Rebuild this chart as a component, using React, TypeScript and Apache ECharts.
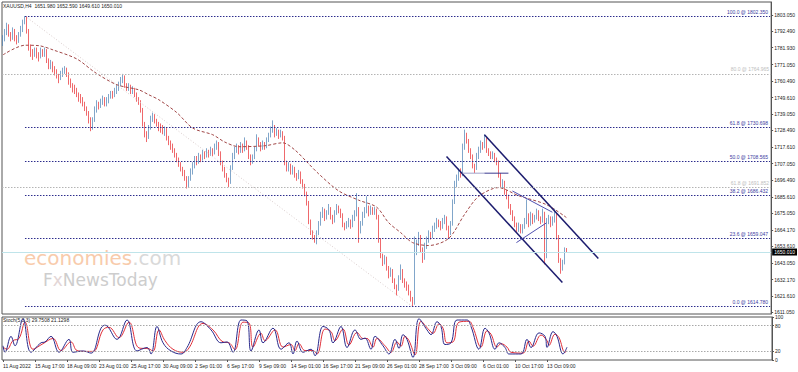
import React, { useEffect, useRef } from 'react';
import * as echarts from 'echarts';

const symbolTitle = 'XAUUSD,H4  1651.980 1652.590 1649.610 1650.010';
const stochTitle = 'Stoch(5,3,3) 29.7508 21.1298';

const dateTicks = ['11 Aug 2022', '15 Aug 17:00', '18 Aug 09:00', '23 Aug 01:00', '25 Aug 17:00', '30 Aug 09:00', '2 Sep 01:00', '6 Sep 17:00', '9 Sep 09:00', '14 Sep 01:00', '16 Sep 17:00', '21 Sep 09:00', '26 Sep 01:00', '28 Sep 17:00', '3 Oct 09:00', '6 Oct 01:00', '10 Oct 17:00', '13 Oct 09:00'];
const barsPerTick = 16;
const totalSlots = 385;

const priceTicks = [1803.05, 1792.49, 1781.93, 1771.05, 1760.49, 1749.61, 1739.05, 1728.49, 1717.61, 1707.05, 1696.49, 1685.61, 1675.05, 1664.17, 1653.61, 1643.05, 1632.17, 1621.61, 1611.05];
const stochTicks = [0, 20, 80, 100];

// [open, close, low, high]
const candles = [
  [1785, 1788, 1783, 1790], [1788, 1792, 1786, 1794], [1792, 1796, 1790, 1798], [1796, 1791, 1789, 1797], [1791, 1789, 1786, 1792],
  [1789, 1793, 1787, 1795], [1793, 1788, 1786, 1794], [1788, 1787, 1784, 1790], [1787, 1790, 1785, 1792], [1790, 1794, 1789, 1796],
  [1794, 1799, 1792, 1800], [1799, 1801, 1797, 1802.35], [1801, 1793, 1791, 1802], [1793, 1782, 1780, 1794], [1782, 1779, 1776, 1784],
  [1779, 1778, 1774, 1781], [1778, 1780, 1776, 1782], [1780, 1777, 1775, 1782], [1777, 1776, 1773, 1779], [1776, 1780, 1775, 1782],
  [1780, 1778, 1776, 1781], [1778, 1780, 1776, 1782], [1780, 1774, 1772, 1781], [1774, 1770, 1768, 1775], [1770, 1772, 1768, 1774],
  [1772, 1768, 1766, 1773], [1768, 1767, 1764, 1770], [1767, 1764, 1762, 1768], [1764, 1762, 1759, 1765], [1762, 1765, 1761, 1767],
  [1765, 1767, 1763, 1769], [1767, 1768, 1765, 1770], [1768, 1765, 1763, 1769], [1765, 1760, 1758, 1766], [1760, 1758, 1756, 1762],
  [1758, 1756, 1753, 1759], [1756, 1755, 1752, 1758], [1755, 1752, 1750, 1756], [1752, 1750, 1747, 1753], [1750, 1749, 1746, 1752],
  [1749, 1746, 1744, 1750], [1746, 1743, 1741, 1747], [1743, 1740, 1738, 1744], [1740, 1736, 1733, 1741], [1736, 1731, 1728, 1737],
  [1731, 1735, 1729, 1737], [1735, 1742, 1734, 1744], [1742, 1746, 1740, 1748], [1746, 1744, 1742, 1747], [1744, 1747, 1743, 1749],
  [1747, 1749, 1745, 1751], [1749, 1746, 1744, 1750], [1746, 1748, 1744, 1750], [1748, 1750, 1746, 1752], [1750, 1752, 1749, 1754],
  [1752, 1751, 1749, 1754], [1751, 1754, 1750, 1756], [1754, 1756, 1752, 1758], [1756, 1758, 1754, 1760], [1758, 1761, 1757, 1763],
  [1761, 1763, 1759, 1765], [1763, 1758, 1756, 1764], [1758, 1756, 1754, 1759], [1756, 1757, 1754, 1759], [1757, 1754, 1752, 1758],
  [1754, 1755, 1752, 1757], [1755, 1752, 1750, 1756], [1752, 1749, 1747, 1753], [1749, 1747, 1745, 1750], [1747, 1742, 1740, 1748],
  [1742, 1733, 1731, 1743], [1733, 1726, 1724, 1734], [1726, 1724, 1721, 1728], [1724, 1730, 1723, 1732], [1730, 1736, 1729, 1738],
  [1736, 1738, 1734, 1740], [1738, 1735, 1733, 1739], [1735, 1733, 1731, 1736], [1733, 1731, 1728, 1734], [1731, 1730, 1727, 1733],
  [1730, 1728, 1726, 1732], [1728, 1729, 1725, 1731], [1729, 1724, 1722, 1730], [1724, 1721, 1719, 1725], [1721, 1719, 1716, 1722],
  [1719, 1716, 1714, 1720], [1716, 1713, 1711, 1717], [1713, 1710, 1708, 1714], [1710, 1707, 1705, 1711], [1707, 1704, 1702, 1708],
  [1704, 1702, 1699, 1705], [1702, 1698, 1696, 1703], [1698, 1694, 1691, 1699], [1694, 1697, 1692, 1699], [1697, 1702, 1696, 1704],
  [1702, 1706, 1700, 1708], [1706, 1710, 1704, 1712], [1710, 1708, 1706, 1712], [1708, 1712, 1707, 1714], [1712, 1710, 1708, 1713],
  [1710, 1714, 1709, 1716], [1714, 1712, 1710, 1715], [1712, 1715, 1711, 1717], [1715, 1713, 1711, 1716], [1713, 1716, 1712, 1718],
  [1716, 1714, 1712, 1717], [1714, 1718, 1713, 1720], [1718, 1720, 1716, 1722], [1720, 1714, 1712, 1721], [1714, 1708, 1706, 1715],
  [1708, 1704, 1702, 1709], [1704, 1700, 1698, 1705], [1700, 1697, 1695, 1701], [1697, 1695, 1692, 1698], [1695, 1704, 1694, 1706],
  [1704, 1712, 1703, 1714], [1712, 1716, 1710, 1718], [1716, 1718, 1714, 1720], [1718, 1715, 1713, 1719], [1715, 1719, 1714, 1721],
  [1719, 1716, 1714, 1720], [1716, 1720, 1715, 1724], [1720, 1718, 1716, 1722], [1718, 1712, 1710, 1719], [1712, 1708, 1706, 1713],
  [1708, 1711, 1707, 1713], [1711, 1716, 1710, 1718], [1716, 1722, 1715, 1726], [1722, 1720, 1718, 1724], [1720, 1717, 1715, 1721],
  [1717, 1720, 1716, 1722], [1720, 1718, 1716, 1721], [1718, 1722, 1717, 1724], [1722, 1725, 1721, 1727], [1725, 1729, 1724, 1731],
  [1729, 1731, 1727, 1735], [1731, 1726, 1724, 1732], [1726, 1728, 1725, 1730], [1728, 1725, 1723, 1729], [1725, 1727, 1724, 1729],
  [1727, 1724, 1722, 1728], [1724, 1708, 1706, 1725], [1708, 1704, 1702, 1709], [1704, 1706, 1702, 1708], [1706, 1702, 1700, 1707],
  [1702, 1704, 1700, 1706], [1704, 1700, 1698, 1705], [1700, 1698, 1696, 1701], [1698, 1701, 1697, 1703], [1701, 1696, 1694, 1702],
  [1696, 1693, 1691, 1697], [1693, 1688, 1686, 1694], [1688, 1682, 1680, 1689], [1682, 1670, 1668, 1683], [1670, 1663, 1661, 1671],
  [1663, 1660, 1658, 1664], [1660, 1658, 1656, 1661], [1658, 1662, 1655, 1664], [1662, 1668, 1661, 1670], [1668, 1674, 1667, 1676],
  [1674, 1677, 1672, 1679], [1677, 1672, 1670, 1678], [1672, 1675, 1671, 1677], [1675, 1678, 1674, 1681], [1678, 1673, 1671, 1679],
  [1673, 1670, 1668, 1674], [1670, 1675, 1669, 1677], [1675, 1679, 1674, 1681], [1679, 1677, 1675, 1680], [1677, 1674, 1672, 1678],
  [1674, 1668, 1666, 1675], [1668, 1666, 1664, 1669], [1666, 1668, 1665, 1670], [1668, 1670, 1666, 1672], [1670, 1667, 1665, 1671],
  [1667, 1672, 1666, 1674], [1672, 1675, 1670, 1677], [1675, 1678, 1673, 1688], [1678, 1664, 1656, 1679], [1664, 1668, 1662, 1670],
  [1668, 1674, 1667, 1676], [1674, 1677, 1672, 1679], [1677, 1679, 1675, 1686], [1679, 1675, 1673, 1680], [1675, 1678, 1674, 1680],
  [1678, 1676, 1674, 1679], [1676, 1677, 1674, 1679], [1677, 1673, 1671, 1678], [1673, 1658, 1656, 1674], [1658, 1648, 1646, 1659],
  [1648, 1644, 1641, 1649], [1644, 1646, 1642, 1648], [1646, 1640, 1638, 1647], [1640, 1636, 1633, 1641], [1636, 1638, 1634, 1640],
  [1638, 1632, 1630, 1639], [1632, 1628, 1626, 1633], [1628, 1626, 1622, 1629], [1626, 1633, 1625, 1635], [1633, 1638, 1632, 1642],
  [1638, 1632, 1630, 1639], [1632, 1630, 1627, 1633], [1630, 1628, 1625, 1631], [1628, 1624, 1622, 1629], [1624, 1620, 1618, 1625],
  [1620, 1617, 1614.78, 1621], [1617, 1650, 1616, 1660], [1650, 1656, 1648, 1658], [1656, 1660, 1654, 1663], [1660, 1652, 1650, 1661],
  [1652, 1646, 1643, 1653], [1646, 1654, 1645, 1656], [1654, 1658, 1652, 1660], [1658, 1662, 1656, 1664], [1662, 1660, 1658, 1663],
  [1660, 1665, 1659, 1667], [1665, 1667, 1663, 1669], [1667, 1670, 1665, 1672], [1670, 1668, 1666, 1671], [1668, 1666, 1664, 1670],
  [1666, 1670, 1665, 1672], [1670, 1672, 1668, 1674], [1672, 1666, 1664, 1673], [1666, 1662, 1659, 1667], [1662, 1668, 1661, 1670],
  [1668, 1682, 1667, 1684], [1682, 1694, 1681, 1696], [1694, 1698, 1692, 1700], [1698, 1702, 1696, 1704], [1702, 1700, 1698, 1704],
  [1700, 1718, 1699, 1720], [1718, 1726, 1716, 1729], [1726, 1722, 1720, 1727], [1722, 1716, 1714, 1723], [1716, 1712, 1710, 1717],
  [1712, 1706, 1704, 1713], [1706, 1704, 1701, 1707], [1704, 1712, 1703, 1714], [1712, 1716, 1710, 1718], [1716, 1720, 1714, 1722],
  [1720, 1718, 1716, 1721], [1718, 1723, 1717, 1726], [1723, 1716, 1714, 1724], [1716, 1714, 1712, 1717], [1714, 1712, 1710, 1715],
  [1712, 1713, 1710, 1715], [1713, 1710, 1708, 1714], [1710, 1708, 1706, 1711], [1708, 1700, 1698, 1709], [1700, 1694, 1692, 1701],
  [1694, 1695, 1691, 1697], [1695, 1689, 1687, 1696], [1689, 1686, 1684, 1690], [1686, 1680, 1678, 1687], [1680, 1676, 1674, 1681],
  [1676, 1672, 1670, 1677], [1672, 1668, 1666, 1673], [1668, 1665, 1663, 1669], [1665, 1667, 1663, 1669], [1667, 1664, 1662, 1668],
  [1664, 1666, 1662, 1668], [1666, 1670, 1665, 1672], [1670, 1674, 1668, 1684], [1674, 1668, 1666, 1675], [1668, 1674, 1667, 1676],
  [1674, 1670, 1668, 1675], [1670, 1672, 1669, 1674], [1672, 1676, 1671, 1678], [1676, 1672, 1670, 1677], [1672, 1670, 1668, 1673],
  [1670, 1675, 1669, 1678], [1675, 1648, 1642, 1676], [1648, 1670, 1646, 1672], [1670, 1672, 1668, 1674], [1672, 1668, 1666, 1673],
  [1668, 1671, 1667, 1673], [1671, 1674, 1669, 1678], [1674, 1660, 1658, 1675], [1660, 1645, 1643, 1661], [1645, 1640, 1636, 1646],
  [1640, 1643, 1638, 1645], [1643, 1651.98, 1642, 1653], [1651.98, 1650.01, 1649.61, 1652.59],
];

// moving average sampled as [bar index, price]
const maPoints = [[0, 1777.3], [11, 1783.5], [18, 1783.2], [25, 1780.5], [37, 1774.6], [46, 1766], [57, 1758], [68, 1754.7], [73, 1751.5], [78, 1748.3], [87, 1740], [95, 1730], [105, 1725.7], [111, 1721], [118, 1718], [131, 1718.6], [140, 1720.5], [146, 1716], [152, 1708.3], [158, 1700.5], [168, 1689.5], [178, 1683.5], [187, 1679], [193, 1669], [199, 1662.6], [205, 1656.1], [213, 1654.2], [223, 1658.7], [231, 1674.2], [238, 1685.8], [248, 1691.6], [258, 1686.4], [272, 1680.6], [282, 1672.3]];

const stochK = [[0, 33], [1, 18], [4, 55], [6, 33], [10, 96], [14, 18], [19, 40], [21, 42], [24, 55], [28, 18], [33, 48], [35, 18], [40, 21], [44, 16], [49, 74], [51, 81], [57, 48], [62, 93], [67, 21], [72, 29], [74, 14], [77, 78], [80, 40], [84, 21], [89, 14], [92, 29], [99, 89], [104, 70], [109, 40], [112, 42], [115, 18], [119, 93], [122, 91], [124, 21], [128, 70], [130, 40], [135, 74], [139, 25], [143, 40], [145, 14], [147, 44], [150, 18], [154, 25], [156, 10], [160, 78], [163, 70], [165, 40], [169, 78], [172, 29], [176, 70], [179, 48], [181, 51], [184, 25], [186, 55], [190, 33], [193, 14], [196, 48], [198, 27], [200, 59], [202, 48], [205, 6], [208, 96], [212, 70], [214, 59], [217, 89], [219, 78], [221, 36], [224, 40], [227, 93], [232, 93], [234, 78], [238, 25], [241, 74], [243, 63], [246, 25], [248, 40], [251, 29], [253, 14], [259, 14], [262, 48], [264, 29], [268, 63], [271, 55], [272, 29], [275, 66], [277, 55], [280, 14], [282, 29.75]];

const stochD = [[0, 30], [2, 25], [5, 45], [8, 50], [11, 88], [15, 25], [20, 38], [25, 50], [29, 22], [34, 42], [37, 22], [41, 20], [45, 20], [50, 70], [53, 76], [58, 52], [63, 88], [68, 28], [73, 26], [75, 20], [78, 70], [81, 45], [85, 25], [90, 18], [93, 28], [100, 85], [105, 70], [110, 42], [113, 40], [116, 24], [120, 88], [123, 86], [125, 30], [129, 62], [131, 45], [136, 70], [140, 30], [144, 36], [146, 22], [148, 38], [151, 22], [155, 22], [157, 14], [161, 72], [164, 66], [166, 45], [170, 72], [173, 35], [177, 64], [180, 50], [182, 50], [185, 30], [187, 50], [191, 33], [194, 18], [197, 42], [199, 32], [201, 55], [203, 45], [206, 12], [209, 90], [213, 70], [215, 62], [218, 84], [220, 74], [222, 40], [225, 42], [228, 88], [233, 90], [235, 76], [239, 30], [242, 68], [244, 60], [247, 30], [249, 38], [252, 30], [254, 18], [260, 16], [263, 44], [265, 32], [269, 58], [272, 45], [273, 34], [276, 60], [278, 52], [281, 18], [282, 21.13]];

const fibLevels = [100.0, 61.8, 50.0, 38.2, 23.6, 0.0];
const fibPrices = [1802.35, 1730.698, 1708.565, 1686.432, 1659.047, 1614.78];
const fibStartBar = 11;
const grayFibLevels = [80.0, 61.8];
const grayFibPrices = [1764.965, 1691.852];
const bidPrice = 1650.01;

const fibDiagonal = [[11, 1802.35], [205, 1614.78]];
const channelUpper = [[241, 1725.7], [298, 1645.8]];
const channelLower = [[222, 1711.6], [280, 1630.3]];
const flatLineLight = [[230, 1700.9], [241, 1700.9]];
const flatLineDark = [[241, 1700.9], [253, 1700.9]];
const triangleUpper = [[255, 1689.4], [275, 1675.7]];
const triangleLower = [[257, 1656.1], [272, 1668.8]];

const UP = '#4a7fb3';
const DOWN = '#e8282d';
const NAVY = '#2c2c8c';
const FONT = 'Liberation Sans';

export default function App() {
  const ref = useRef<HTMLDivElement>(null);
  useEffect(() => {
    if (!ref.current) return;
    const chart = echarts.init(ref.current, undefined, { renderer: 'svg' });
    const slots = Array.from({ length: totalSlots }, (_, i) => String(i));
    const tickInterval = (idx: number) => idx % barsPerTick === 0 && idx / barsPerTick < dateTicks.length;

    const fibLines = fibLevels.map((lv, k) => [
      {
        coord: [fibStartBar, fibPrices[k]],
        label: { formatter: `${lv.toFixed(1)} @ ${fibPrices[k].toFixed(3)}` },
      },
      { coord: [totalSlots - 1, fibPrices[k]] },
    ]);
    const grayLines = grayFibLevels.map((lv, k) => ({
      yAxis: grayFibPrices[k],
      lineStyle: { color: '#b4b4b4', type: [1.5, 1.5], width: 1 },
      label: { formatter: `${lv.toFixed(1)} @ ${grayFibPrices[k].toFixed(3)}`, color: '#bdbdbd' },
    }));

    const simpleLine = (data: number[][], color: string, width: number, type: any = 'solid') => ({
      type: 'line',
      xAxisIndex: 0,
      yAxisIndex: 0,
      data,
      showSymbol: false,
      symbol: 'none',
      silent: true,
      lineStyle: { color, width, type },
      z: 4,
    });

    const option: any = {
      animation: false,
      backgroundColor: '#ffffff',
      textStyle: { fontFamily: FONT },
      grid: [
        { left: 2, top: 2, width: 770, height: 312, show: true, borderColor: '#555555', borderWidth: 1 },
        { left: 2, top: 317, width: 770, height: 43, show: true, borderColor: '#555555', borderWidth: 1 },
      ],
      xAxis: [
        {
          type: 'category', gridIndex: 0, data: slots, boundaryGap: true,
          axisLine: { show: false }, axisTick: { show: false }, axisLabel: { show: false }, splitLine: { show: false },
        },
        {
          type: 'category', gridIndex: 1, data: slots, boundaryGap: true,
          axisLine: { show: false },
          axisTick: { show: true, interval: tickInterval, length: 2, alignWithLabel: true, lineStyle: { color: '#555' } },
          axisLabel: {
            interval: tickInterval,
            formatter: (_v: string, idx: number) => dateTicks[idx / barsPerTick] || '',
            fontSize: 5, color: '#222', align: 'left', margin: 3, fontFamily: FONT,
          },
          splitLine: { show: false },
        },
      ],
      yAxis: [
        {
          type: 'value', gridIndex: 0, position: 'right', min: 1610.0, max: 1811.4, scale: true,
          axisLine: { show: true, lineStyle: { color: '#555' } },
          axisTick: { show: true, customValues: priceTicks, length: 2, lineStyle: { color: '#555' } },
          axisLabel: { customValues: priceTicks, formatter: (v: number) => v.toFixed(3), fontSize: 5, color: '#222', margin: 3, fontFamily: FONT },
          splitLine: { show: false },
        },
        {
          type: 'value', gridIndex: 1, position: 'right', min: 0, max: 100,
          axisLine: { show: true, lineStyle: { color: '#555' } },
          axisTick: { show: true, customValues: stochTicks, length: 2, lineStyle: { color: '#555' } },
          axisLabel: { customValues: stochTicks, formatter: (v: number) => String(v), fontSize: 5, color: '#222', margin: 3, fontFamily: FONT },
          splitLine: { show: false },
        },
      ],
      series: [
        {
          type: 'candlestick',
          xAxisIndex: 0, yAxisIndex: 0,
          data: candles,
          barWidth: 1.2,
          itemStyle: { color: UP, color0: DOWN, borderColor: UP, borderColor0: DOWN, borderWidth: 0.7 },
          markLine: {
            silent: true,
            symbol: ['none', 'none'],
            animation: false,
            lineStyle: { color: NAVY, type: [1.5, 1.5], width: 1 },
            label: { show: true, position: 'insideEndTop', fontSize: 5, color: '#3a3aa0', fontFamily: FONT, distance: 2 },
            data: [
              ...grayLines,
              ...fibLines,
              {
                yAxis: bidPrice,
                lineStyle: { color: '#bfe4ea', type: 'solid', width: 1 },
                label: {
                  position: 'end', formatter: bidPrice.toFixed(3), color: '#ffffff', backgroundColor: '#000000',
                  padding: [1, 2, 1, 2], fontSize: 5, distance: 1,
                },
              },
            ],
          },
          z: 3,
        },
        simpleLine(fibDiagonal, '#d9cccc', 1, [1, 2]),
        { ...simpleLine(maPoints, '#a04646', 1, [3, 2]), smooth: 0.3 },
        simpleLine(channelUpper, '#1c1c6e', 1.5),
        simpleLine(channelLower, '#1c1c6e', 1.5),
        simpleLine(flatLineLight, '#a0a4cc', 1),
        simpleLine(flatLineDark, '#3a3a90', 1),
        simpleLine(triangleUpper, '#5050b0', 1),
        simpleLine(triangleLower, '#5050b0', 1),
        {
          type: 'line', xAxisIndex: 1, yAxisIndex: 1, data: stochD, showSymbol: false, symbol: 'none', smooth: 0.4,
          lineStyle: { color: '#e0303a', width: 1 }, silent: true,
        },
        {
          type: 'line', xAxisIndex: 1, yAxisIndex: 1, data: stochK, showSymbol: false, symbol: 'none', smooth: 0.4,
          lineStyle: { color: '#2a2a8c', width: 1 }, silent: true,
          markLine: {
            silent: true, symbol: ['none', 'none'], label: { show: false },
            lineStyle: { color: '#a8a8a8', type: [1.5, 1.5], width: 1 },
            data: [{ yAxis: 20 }, { yAxis: 80 }],
          },
        },
      ],
      graphic: [
        { type: 'text', x: 3, y: 6, style: { text: symbolTitle, fill: '#222', fontSize: 5, fontFamily: FONT, verticalAlign: 'middle' } },
        { type: 'text', x: 3, y: 320, style: { text: stochTitle, fill: '#222', fontSize: 5, fontFamily: FONT, verticalAlign: 'middle' } },
        {
          type: 'text', x: 24, y: 257.5, silent: true,
          style: {
            text: '{a|economies}{b|.com}', verticalAlign: 'middle',
            rich: {
              a: { fill: '#f8cbab', fontSize: 20, fontFamily: 'DejaVu Sans' },
              b: { fill: '#d9d9d9', fontSize: 20, fontFamily: 'DejaVu Sans' },
            },
          },
        },
        {
          type: 'text', x: 43, y: 279.5, silent: true,
          style: {
            text: '{c|F}{d|x}{c|NewsToday}', verticalAlign: 'middle',
            rich: {
              c: { fill: '#cdcdcd', fontSize: 17, fontFamily: 'DejaVu Sans' },
              d: { fill: '#e3d6d6', fontSize: 17, fontFamily: 'DejaVu Sans' },
            },
          },
        },
      ],
    };
    chart.setOption(option);
    return () => chart.dispose();
  }, []);
  return <div ref={ref} style={{ position: 'fixed', left: 0, top: 0, width: 798, height: 372, background: '#fff' }} />;
}
